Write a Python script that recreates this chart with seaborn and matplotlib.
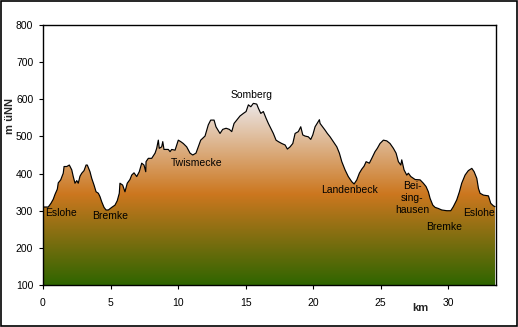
import numpy as np
import pandas as pd
import matplotlib
matplotlib.use("Agg")
import matplotlib.pyplot as plt
import seaborn as sns
from matplotlib.colors import LinearSegmentedColormap
from matplotlib.patches import Rectangle

# ---- data: elevation profile (km, m above sea level) ----
km = [0.00, 0.39, 0.59, 0.76, 0.89, 1.06, 1.13, 1.31, 1.50, 1.56, 1.76, 1.95, 2.13, 2.24,
      2.37, 2.50, 2.61, 2.74, 2.87, 3.04, 3.19, 3.28, 3.48, 3.61, 3.78, 3.93, 4.10, 4.22,
      4.35, 4.52, 4.67, 4.84, 5.09, 5.33, 5.50, 5.65, 5.70, 5.90, 6.07, 6.24, 6.44, 6.57,
      6.74, 6.94, 7.13, 7.31, 7.48, 7.61, 7.63, 7.80, 8.05, 8.30, 8.42, 8.54, 8.61, 8.79,
      8.87, 8.96, 9.28, 9.41, 9.53, 9.78, 9.90, 10.02, 10.20, 10.39, 10.64, 10.89, 11.09,
      11.33, 11.50, 11.68, 12.00, 12.24, 12.42, 12.67, 12.81, 13.11, 13.31, 13.56, 13.80,
      13.98, 14.15, 14.35, 14.59, 14.84, 15.04, 15.21, 15.39, 15.58, 15.83, 15.95, 16.13,
      16.32, 16.52, 16.69, 16.87, 17.06, 17.26, 17.43, 17.68, 17.93, 18.10, 18.30, 18.50,
      18.67, 18.91, 19.09, 19.24, 19.41, 19.65, 19.83, 19.98, 20.15, 20.39, 20.47, 20.52,
      20.89, 21.06, 21.26, 21.50, 21.76, 21.95, 22.13, 22.37, 22.61, 22.87, 23.04, 23.24,
      23.43, 23.61, 23.78, 23.93, 24.17, 24.35, 24.59, 24.76, 24.96, 25.21, 25.46, 25.70,
      25.95, 26.15, 26.32, 26.50, 26.57, 26.74, 26.94, 27.06, 27.24, 27.56, 27.93, 28.17,
      28.37, 28.54, 28.67, 28.87, 29.04, 29.28, 29.53, 29.90, 30.20, 30.39, 30.64, 30.84,
      31.01, 31.26, 31.50, 31.76, 31.93, 32.13, 32.25, 32.37, 32.62, 32.99, 33.16, 33.36,
      33.48]
hoehe = [310, 310, 320, 331, 344, 358, 375, 383, 401, 419, 419, 423, 410, 392,
         374, 381, 374, 393, 401, 408, 423, 423, 405, 387, 369, 351, 347, 338,
         324, 309, 302, 302, 309, 315, 327, 347, 374, 369, 351, 374, 384, 396,
         402, 392, 405, 428, 423, 405, 432, 441, 441, 455, 468, 490, 468, 472,
         486, 465, 465, 459, 465, 463, 477, 490, 486, 481, 472, 455, 450,
         455, 472, 490, 501, 531, 544, 544, 526, 508, 519, 522, 519,
         513, 535, 544, 555, 562, 567, 585, 580, 589, 587, 576, 562,
         567, 549, 535, 522, 508, 490, 486, 481, 477, 466, 472, 481,
         508, 513, 526, 504, 501, 499, 492, 504, 526, 540, 545, 535,
         517, 508, 499, 486, 472, 455, 432, 410, 392, 378, 372, 383,
         401, 412, 420, 432, 428, 441, 459, 468, 481, 490, 488, 481,
         468, 455, 432, 423, 437, 410, 396, 401, 392, 384, 383, 374,
         365, 351, 333, 315, 309, 306, 302, 300, 300, 311, 329, 351,
         374, 396, 408, 414, 405, 387, 360, 347, 342, 340, 320, 313,
         311]

orte = ["Eslohe", "Bremke", "Twismecke", "Somberg", "Landenbeck",
        "Bei-\nsing-\nhausen", "Bremke", "Eslohe"]
orte_km = [0.15, 5.0, 11.37, 15.48, 22.67, 27.33, 29.74, 32.3]
orte_m = [294, 286, 429, 612, 356, 334, 256, 294]
orte_ha = ["left", "center", "center", "center", "center", "center", "center", "center"]

x_ticks = [0, 5, 10, 15, 20, 25, 30]
y_ticks = [100, 200, 300, 400, 500, 600, 700, 800]

df = pd.DataFrame({"km": km, "hoehe": hoehe})

sns.set_style("white")
plt.rcParams["font.family"] = ["Liberation Sans", "DejaVu Sans"]

fig = plt.figure(figsize=(5.18, 3.27), dpi=100)
ax = fig.add_axes([43 / 518, 42 / 327, 453 / 518, 260 / 327])

xmax = 33.55
ymin, ymax = 100, 800

# gradient fill clipped to the area under the profile
poly = ax.fill_between(df["km"], df["hoehe"], ymin, color="none", linewidth=0)
cmap = LinearSegmentedColormap.from_list(
    "hoehe", [(0.0, "#2f6500"), (0.5, "#cc771f"), (1.0, "#ebe6e6")])
top = max(hoehe)
grad = np.linspace(0, 1, 256).reshape(-1, 1)
im = ax.imshow(grad, cmap=cmap, origin="lower", aspect="auto",
               extent=[0, xmax, ymin, top], zorder=1)
path = poly.get_paths()[0]
im.set_clip_path(path, transform=ax.transData)

sns.lineplot(data=df, x="km", y="hoehe", ax=ax, color="black", linewidth=0.85,
             estimator=None, sort=False, zorder=3)

for name, xk, ym, ha in zip(orte, orte_km, orte_m, orte_ha):
    ax.text(xk, ym, name, ha=ha, va="center", fontsize=7.5, color="black",
            linespacing=1.25, zorder=4)

ax.set_xlim(0, xmax)
ax.set_ylim(ymin, ymax)
ax.set_xticks(x_ticks)
ax.set_yticks(y_ticks)
ax.tick_params(axis="both", labelsize=7.5, length=3, width=0.8, direction="out",
               colors="black", pad=4)
ax.tick_params(axis="x", pad=6)
ax.xaxis.set_ticks_position("bottom")
ax.yaxis.set_ticks_position("left")
for s in ax.spines.values():
    s.set_color("black")
    s.set_linewidth(1.0)

ax.set_xlabel("km", fontsize=8, fontweight="bold")
ax.set_ylabel("")
ax.xaxis.set_label_coords(0.832, -0.07)
fig.text(10 / 518, 1 - 116 / 327, "m üNN", rotation=90, ha="center", va="center",
         fontsize=8, fontweight="bold")

fig.patches.append(Rectangle((0.001, 0.002), 0.997, 0.995, transform=fig.transFigure,
                             fill=False, edgecolor="black", linewidth=1.2))

fig.savefig("out.png", dpi=100)
